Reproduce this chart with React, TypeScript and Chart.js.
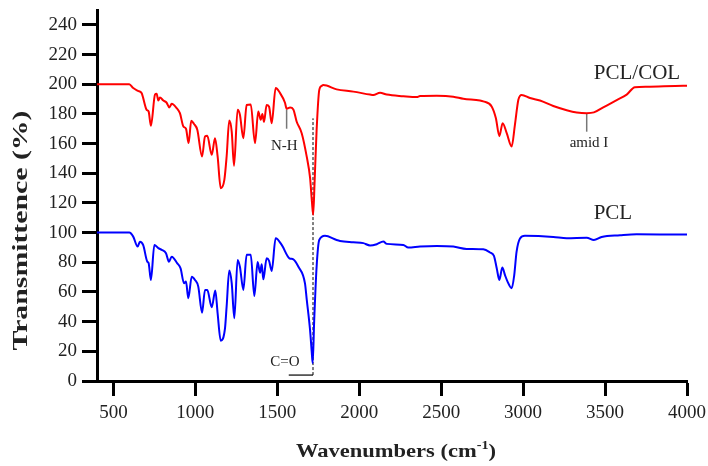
import React, { useEffect, useRef } from "react";
import { Chart, registerables } from "chart.js";
Chart.register(...registerables);

// PCL/COL spectrum (red)
const COL_WN = [400, 597, 621, 650, 672, 703, 715, 729, 754, 764, 774, 784, 805, 825, 841, 856, 886, 906, 927, 943, 959, 975, 992, 1012, 1041, 1059, 1073, 1100, 1120, 1136, 1155, 1177, 1191, 1207, 1222, 1236, 1258, 1272, 1293, 1313, 1338, 1364, 1384, 1399, 1409, 1419, 1435, 1450, 1466, 1490, 1517, 1547, 1557, 1578, 1598, 1618, 1649, 1680, 1700, 1712, 1719, 1728, 1740, 1756, 1771, 1781, 1862, 1964, 2066, 2086, 2127, 2168, 2269, 2351, 2371, 2473, 2574, 2635, 2737, 2757, 2808, 2834, 2855, 2875, 2900, 2930, 2950, 2971, 2991, 3042, 3103, 3184, 3266, 3327, 3388, 3432, 3489, 3571, 3632, 3682, 3754, 3977, 4000];
const COL_T = [200, 200, 197.4, 195.5, 194, 182.7, 181.6, 172, 193, 193.6, 189, 191, 189, 187.5, 184.3, 186.8, 183.9, 180.5, 171.5, 170, 160.3, 175.3, 173.2, 169.3, 151.3, 164.7, 165.2, 152.4, 163.6, 151.3, 129.9, 135.5, 151.3, 175.5, 168, 145, 182.7, 179.4, 163.6, 186, 186.4, 160.3, 181.6, 176, 180, 174.6, 186, 184.8, 173.7, 197.4, 194, 187.5, 183.5, 184.3, 183, 174.9, 167, 151, 137, 120, 112, 135, 169, 196, 198.9, 199.4, 196.5, 195, 193, 192.7, 194.2, 193, 191.9, 191.3, 192, 192.2, 191.6, 190.2, 189, 188.4, 185, 177, 165, 173.7, 167, 158, 172.6, 189.5, 192.8, 190.7, 189, 185.3, 182.5, 181, 180.5, 181, 184.4, 189.3, 193, 198, 198.3, 199, 199];

// PCL spectrum (blue)
const PCL_WN = [400, 597, 621, 648, 662, 682, 707, 715, 729, 750, 774, 795, 821, 839, 856, 890, 910, 931, 943, 957, 978, 998, 1018, 1041, 1059, 1073, 1100, 1122, 1136, 1155, 1181, 1191, 1207, 1222, 1238, 1258, 1272, 1293, 1313, 1338, 1360, 1380, 1395, 1405, 1415, 1435, 1450, 1466, 1490, 1527, 1574, 1598, 1629, 1669, 1680, 1700, 1710, 1716, 1725, 1740, 1756, 1791, 1862, 1883, 1964, 2025, 2066, 2107, 2147, 2168, 2269, 2299, 2371, 2473, 2574, 2655, 2757, 2798, 2822, 2839, 2855, 2873, 2889, 2905, 2930, 2946, 2960, 2981, 3011, 3184, 3266, 3388, 3432, 3479, 3591, 3693, 3977, 4000];
const PCL_T = [100, 100, 97.3, 90.6, 93.8, 91.5, 80.4, 79.5, 68.1, 91.7, 89.5, 88.4, 86.1, 80.4, 83.8, 79.3, 75.9, 65.9, 67, 55.8, 70.3, 68.1, 63.6, 46, 61.3, 61.3, 49.7, 61, 45.6, 27.2, 35.5, 50.3, 74.4, 65.9, 42.3, 81.6, 77, 61.4, 85, 85, 57.3, 80.2, 73, 78.6, 68.5, 82.7, 81, 74.2, 96.2, 91.7, 82.7, 82, 77, 65.8, 54.6, 34.4, 20, 12, 40, 77, 95, 97.8, 95, 94.4, 93.5, 92.9, 91.3, 92.2, 94, 92.4, 91.7, 89.9, 90.6, 91, 90.6, 89, 88.7, 86.6, 84.3, 76, 68.1, 76.4, 71.5, 67, 62.5, 71.5, 87, 96, 97.8, 97.1, 96.2, 96.6, 95, 97, 98.2, 98.9, 98.7, 98.7];

const X_TICKS = [500, 1000, 1500, 2000, 2500, 3000, 3500, 4000];
const Y_TICKS = [0, 20, 40, 60, 80, 100, 120, 140, 160, 180, 200, 220, 240];

// annotation markers
const NH_LINE_X = [1557, 1557];
const NH_LINE_Y = [170, 183];
const CO_DASH_X = [1718, 1718];
const CO_DASH_Y = [4, 177];
const CO_BASE_X = [1570, 1718];
const CO_BASE_Y = [4, 4];
const AMID_LINE_X = [3388, 3388];
const AMID_LINE_Y = [168, 180];

const ANNOT_TEXT = ["PCL/COL", "PCL", "N-H", "C=O", "amid I"];
const ANNOT_WN = [3695, 3548, 1543, 1547, 3402];
const ANNOT_T = [207.5, 112.6, 158.5, 12.8, 160];

const X_TITLE = "Wavenumbers (cm";
const X_TITLE_SUP = "-1";
const Y_TITLE = "Transmittence (%)";

const pts = (xs: number[], ys: number[]) => xs.map((v, i) => ({ x: v, y: ys[i] }));

const SERIF = '"Liberation Serif", "Times New Roman", serif';
const ANNOT_SIZES = [21, 21, 15, 15, 15];

const annotPlugin = {
  id: "annot",
  afterDraw(chart: any) {
    const { ctx, scales, chartArea } = chart;
    const xs = scales.x;
    const ys = scales.y;
    ctx.save();
    ctx.fillStyle = "#222";
    ctx.textAlign = "center";
    ctx.textBaseline = "middle";
    ANNOT_TEXT.forEach((t, i) => {
      ctx.font = `${ANNOT_SIZES[i]}px ${SERIF}`;
      ctx.fillText(t, xs.getPixelForValue(ANNOT_WN[i]), ys.getPixelForValue(ANNOT_T[i]));
    });
    ctx.restore();

    // y-axis title
    ctx.save();
    ctx.fillStyle = "#222";
    ctx.font = `bold 20px ${SERIF}`;
    ctx.textAlign = "center";
    ctx.textBaseline = "middle";
    ctx.translate(22, (chartArea.top + chartArea.bottom) / 2 + 35);
    ctx.rotate(-Math.PI / 2);
    const w = ctx.measureText(Y_TITLE).width;
    ctx.scale(240 / w, 1);
    ctx.fillText(Y_TITLE, 0, 0);
    ctx.restore();

    // x-axis title with superscript
    ctx.save();
    ctx.fillStyle = "#222";
    ctx.textBaseline = "alphabetic";
    ctx.textAlign = "left";
    ctx.font = `bold 19px ${SERIF}`;
    const w1 = ctx.measureText(X_TITLE).width;
    const w3 = ctx.measureText(")").width;
    ctx.font = `bold 12px ${SERIF}`;
    const w2 = ctx.measureText(X_TITLE_SUP).width;
    const total = w1 + w2 + w3;
    const target = 200;
    const cx = (chartArea.left + chartArea.right) / 2 + 4;
    ctx.translate(cx - target / 2, 457);
    ctx.scale(target / total, 1);
    ctx.font = `bold 19px ${SERIF}`;
    ctx.fillText(X_TITLE, 0, 0);
    ctx.font = `bold 12px ${SERIF}`;
    ctx.fillText(X_TITLE_SUP, w1, -8);
    ctx.font = `bold 19px ${SERIF}`;
    ctx.fillText(")", w1 + w2, 0);
    ctx.restore();
  },
};

export default function App() {
  const ref = useRef<HTMLCanvasElement>(null);
  useEffect(() => {
    document.body.style.margin = "0";
    const canvas = ref.current;
    if (!canvas) return;
    const markerStyle = {
      borderColor: "#777",
      borderWidth: 1.5,
      pointRadius: 0,
      showLine: true,
      fill: false,
    };
    const chart = new Chart(canvas, {
      type: "scatter",
      data: {
        datasets: [
          { label: "PCL/COL", data: pts(COL_WN, COL_T), borderColor: "#ff0000", borderWidth: 2, pointRadius: 0, showLine: true, cubicInterpolationMode: "monotone" },
          { label: "PCL", data: pts(PCL_WN, PCL_T), borderColor: "#0000ff", borderWidth: 2, pointRadius: 0, showLine: true, cubicInterpolationMode: "monotone" },
          { label: "N-H", data: pts(NH_LINE_X, NH_LINE_Y), ...markerStyle },
          { label: "amid I", data: pts(AMID_LINE_X, AMID_LINE_Y), ...markerStyle },
          { label: "C=O dash", data: pts(CO_DASH_X, CO_DASH_Y), borderColor: "#000", borderWidth: 1, borderDash: [3, 2], pointRadius: 0, showLine: true },
          { label: "C=O base", data: pts(CO_BASE_X, CO_BASE_Y), borderColor: "#000", borderWidth: 1.2, pointRadius: 0, showLine: true },
        ],
      },
      options: {
        animation: false,
        responsive: false,
        devicePixelRatio: 1,
        layout: { padding: { left: 40, right: 21, top: 10, bottom: 0 } },
        plugins: { legend: { display: false }, tooltip: { enabled: false } },
        scales: {
          x: {
            type: "linear",
            min: 400,
            max: 4000,
            afterBuildTicks: (s: any) => {
              s.ticks = X_TICKS.map((v) => ({ value: v }));
            },
            afterFit: (s: any) => {
              s.height = 85;
              s.paddingLeft = 0;
              s.paddingRight = 0;
            },
            border: { display: true, color: "#000", width: 3 },
            grid: { display: true, drawOnChartArea: false, drawTicks: true, tickLength: 15, tickWidth: 3, tickColor: "#000" },
            ticks: { color: "#222", font: { family: SERIF, size: 19 }, padding: 6, maxRotation: 0, callback: (v: any) => String(v) },
          },
          y: {
            type: "linear",
            min: 0,
            max: 250,
            afterBuildTicks: (s: any) => {
              s.ticks = Y_TICKS.map((v) => ({ value: v }));
            },
            afterFit: (s: any) => {
              s.width = 57;
              s.paddingTop = 0;
              s.paddingBottom = 0;
            },
            border: { display: true, color: "#000", width: 3 },
            grid: { display: true, drawOnChartArea: false, drawTicks: true, tickLength: 15, tickWidth: 3, tickColor: "#000" },
            ticks: { color: "#222", font: { family: SERIF, size: 19 }, padding: 5, callback: (v: any) => String(v) },
          },
        },
      },
      plugins: [annotPlugin],
    } as any);
    return () => chart.destroy();
  }, []);
  return (
    <div style={{ width: 708, height: 466 }}>
      <canvas ref={ref} width={708} height={466} />
    </div>
  );
}
